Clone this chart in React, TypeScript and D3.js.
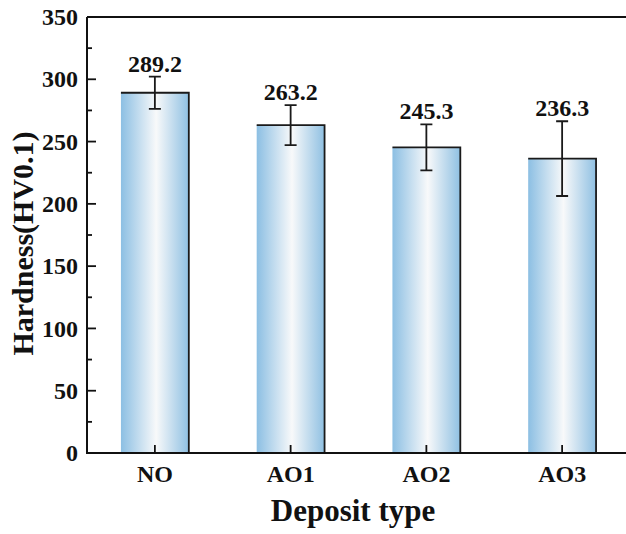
import React from 'react';
import * as d3 from 'd3';

const categories = ['NO', 'AO1', 'AO2', 'AO3'];
const hardness = [289.2, 263.2, 245.3, 236.3];
const errors = [13, 16, 18.5, 30];
const yTicks = [0, 50, 100, 150, 200, 250, 300, 350];
const yMinorTicks = [25, 75, 125, 175, 225, 275, 325];

const W = 626;
const H = 534;
const FONT = '"Liberation Serif", "Times New Roman", serif';

export default function App() {
  const margin = { top: 17, left: 87, bottom: 81 };
  const x = d3.scaleBand<string>()
    .domain(categories)
    .range([margin.left, 630])
    .paddingInner(0.5)
    .paddingOuter(0.25);
  const y = d3.scaleLinear()
    .domain([0, 350])
    .range([H - margin.bottom, margin.top]);

  const y0 = y(0);
  const bw = x.bandwidth();

  return (
    <svg width={W} height={H} style={{ position: 'absolute', left: 0, top: 0 }} fontFamily={FONT}>
      <defs>
        <linearGradient id="barGrad" x1="0" x2="1" y1="0" y2="0">
          <stop offset="0" stopColor="#8cbfe3" />
          <stop offset="0.52" stopColor="#f8f9fa" />
          <stop offset="1" stopColor="#8fc0e2" />
        </linearGradient>
      </defs>
      <rect width={W} height={H} fill="#fff" />

      {/* bars */}
      {categories.map((c, i) => {
        const x0 = x(c)!;
        const top = y(hardness[i]);
        return (
          <g key={c}>
            <rect x={x0} y={top} width={bw} height={y0 - top} fill="url(#barGrad)" />
            <path d={`M${x0},${top}H${x0 + bw}V${y0}`} fill="none" stroke="#1a1a1a" strokeWidth={1.8} />
          </g>
        );
      })}

      {/* error bars + value labels */}
      {categories.map((c, i) => {
        const cx = x(c)! + bw / 2;
        const hi = y(hardness[i] + errors[i]);
        const lo = y(hardness[i] - errors[i]);
        return (
          <g key={c + '-err'}>
            <path d={`M${cx},${hi}V${lo}M${cx - 6},${hi}H${cx + 6}M${cx - 6},${lo}H${cx + 6}`}
              stroke="#1a1a1a" strokeWidth={1.8} fill="none" />
            <text x={cx} y={hi - 5} textAnchor="middle" fontSize={24} fontWeight="bold" fill="#111">
              {hardness[i].toFixed(1)}
            </text>
          </g>
        );
      })}

      {/* frame */}
      <path d={`M${margin.left},${margin.top}V${y0}H${W}`} fill="none" stroke="#111" strokeWidth={2} />
      <line x1={margin.left} x2={W} y1={margin.top} y2={margin.top} stroke="#111" strokeWidth={2} />

      {/* y ticks */}
      {yTicks.map(t => (
        <g key={'y' + t}>
          <line x1={margin.left} x2={margin.left + 9} y1={y(t)} y2={y(t)} stroke="#111" strokeWidth={1.8} />
          <text x={78} y={y(t)} dy="0.34em" textAnchor="end" fontSize={24} fontWeight="bold" fill="#111">{t}</text>
        </g>
      ))}
      {yMinorTicks.map(t => (
        <line key={'ym' + t} x1={margin.left} x2={margin.left + 5} y1={y(t)} y2={y(t)} stroke="#111" strokeWidth={1.8} />
      ))}

      {/* x ticks */}
      {categories.map(c => {
        const cx = x(c)! + bw / 2;
        return (
          <g key={'x' + c}>
            <line x1={cx} x2={cx} y1={y0} y2={y0 - 8} stroke="#111" strokeWidth={1.8} />
            <text x={cx} y={482} textAnchor="middle" fontSize={24} fontWeight="bold" fill="#111">{c}</text>
          </g>
        );
      })}

      {/* axis titles */}
      <text x={353} y={521} textAnchor="middle" fontSize={31} fontWeight="bold" fill="#111">Deposit type</text>
      <text transform={`translate(33,${(130 + 357) / 2}) rotate(-90)`} textAnchor="middle" fontSize={30}
        fontWeight="bold" fill="#111">Hardness(HV0.1)</text>
    </svg>
  );
}
